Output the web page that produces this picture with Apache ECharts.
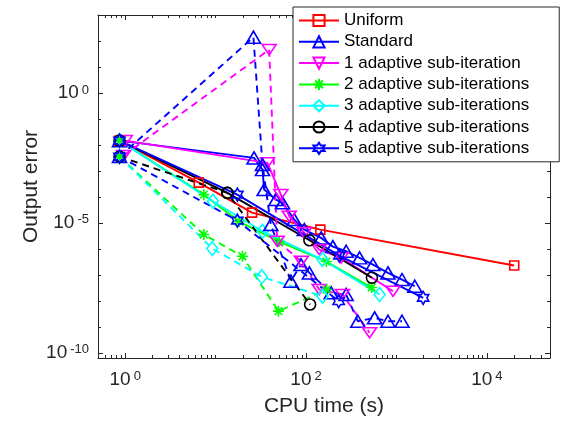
<!DOCTYPE html>
<html>
<head>
<meta charset="utf-8">
<script src="https://cdn.jsdelivr.net/npm/echarts@6/dist/echarts.min.js"></script>
<style>
  html, body { margin: 0; padding: 0; background: #ffffff; }
  #chart { width: 566px; height: 425px; }
</style>
</head>
<body>
<div id="chart"></div>
<script>
// CPU time (s) against output error for each refinement strategy.
// Solid curves: first test case; dashed curves: second test case.

const uniformTime = [0.865, 6.52, 25.3, 144, 20100];
const uniformErr  = [0.0146, 3.55e-4, 2.49e-5, 5.5e-6, 2.28e-7];

const standardTime  = [0.865, 26.6, 33.0, 34.4, 46.4, 55.0, 74.1, 95.7, 147, 198, 278, 391, 550, 807, 1153, 1597];
const standardErr   = [0.0146, 3.16e-3, 1.12e-3, 1.91e-4, 7.9e-5, 5.9e-5, 1.34e-5, 5.5e-6, 2.65e-6, 1.22e-6, 8.1e-7, 4.5e-7, 2.49e-7, 1.19e-7, 6.6e-8, 3.65e-8];
const standardTimeB = [0.865, 26.2, 33.0, 40.8, 68.1, 88, 109, 190, 278, 374, 574, 807, 1153];
const standardErrB  = [3.55e-3, 140, 1.75e-3, 8.6e-6, 5.7e-8, 2.49e-7, 1.19e-7, 2.03e-8, 1.75e-8, 1.64e-9, 2.22e-9, 1.64e-9, 1.64e-9];

const oneSubTime  = [1.0, 37.4, 52.7, 65.2, 95.7, 140, 245, 917];
const oneSubErr   = [0.0146, 2.03e-3, 1.22e-4, 1.8e-5, 4.1e-6, 9.4e-7, 4.5e-7, 2.34e-8];
const oneSubTimeB = [0.96, 39.1, 48, 88.7, 140, 253, 505];
const oneSubErrB  = [3.9e-3, 46.3, 1.96e-6, 3.33e-7, 2.72e-8, 1.75e-8, 5.9e-10];

const twoSubTime  = [0.865, 7.41, 18.2, 50.5, 168, 532];
const twoSubErr   = [0.0146, 1.22e-4, 1.12e-5, 1.91e-6, 3.25e-7, 3.25e-8];
const twoSubTimeB = [0.865, 7.41, 19.8, 49.6, 169];
const twoSubErrB  = [3.55e-3, 3.55e-6, 5.2e-7, 4.0e-9, 2.72e-8];

const threeSubTime  = [0.865, 9.33, 33, 152, 652];
const threeSubErr   = [0.0146, 6.8e-5, 4.75e-6, 3.87e-7, 1.75e-8];
const threeSubTimeB = [0.865, 9.18, 32.4, 152];
const threeSubErrB  = [3.55e-3, 1.03e-6, 8.4e-8, 1.5e-8];

const fourSubTime  = [0.865, 13.5, 109, 536];
const fourSubErr   = [0.0146, 1.43e-4, 2.14e-6, 7.7e-8];
const fourSubTimeB = [0.865, 13.5, 111];
const fourSubErrB  = [3.55e-3, 1.43e-4, 7.2e-9];

const fiveSubTime  = [0.865, 17.4, 234, 1976];
const fiveSubErr   = [0.0146, 1.22e-4, 5.5e-7, 1.3e-8];
const fiveSubTimeB = [0.865, 17.4, 230];
const fiveSubErrB  = [3.55e-3, 1.22e-5, 9.7e-9];

// Decade exponents that carry a "10^n" label
const xTickExps = [0, 2, 4];
const yTickExps = [-10, -5, 0];

// ---- styling -------------------------------------------------------------
const AX = '#262626';
const FONT = '"Liberation Sans", Arial, Helvetica, sans-serif';

// Axes are drawn in decade (log10) units
const X_MIN = Math.log10(0.5), X_MAX = Math.log10(5e4);
const Y_MIN = -10.2, Y_MAX = 3;

const xMinor = [];
for (let n = -1; n <= 4; n++) {
  for (let k = 1; k <= 9; k++) {
    if (k === 1 && xTickExps.includes(n)) continue;
    const v = n + Math.log10(k);
    if (v > X_MIN + 1e-9 && v < X_MAX - 1e-9) xMinor.push(v);
  }
}
const yMinor = [];
for (let n = -10; n <= 3; n++) if (!yTickExps.includes(n)) yMinor.push(n);

const powRich = {
  b: { fontFamily: FONT, fontSize: 19, color: AX },
  s: { fontFamily: FONT, fontSize: 13, color: AX, verticalAlign: 'top', padding: [0, 0, 0, 3] }
};
const powLabel = v => '{b|10}{s|' + Math.round(v) + '}';

function axis(pos, min, max, ticks, len, showLine, extra) {
  return Object.assign({
    type: 'value', gridIndex: 0, position: pos, min: min, max: max,
    axisLine: { show: showLine, onZero: false, lineStyle: { color: AX, width: 1 } },
    axisTick: { show: true, inside: true, length: len, customValues: ticks, lineStyle: { color: AX, width: 1 } },
    axisLabel: { show: false },
    splitLine: { show: false },
    minorTick: { show: false },
    minorSplitLine: { show: false },
    axisPointer: { show: false },
    silent: true
  }, extra || {});
}

const xAxes = [
  axis('bottom', X_MIN, X_MAX, xTickExps, 5, true, {
    axisLabel: { show: true, customValues: xTickExps, formatter: powLabel, rich: powRich, margin: 12 },
    name: 'CPU time (s)', nameLocation: 'middle', nameGap: 38, nameMoveOverlap: false,
    nameTextStyle: { fontFamily: FONT, fontSize: 21, color: AX }
  }),
  axis('bottom', X_MIN, X_MAX, xMinor, 3, false),
  axis('top', X_MIN, X_MAX, xTickExps, 5, true),
  axis('top', X_MIN, X_MAX, xMinor, 3, false)
];
const yAxes = [
  axis('left', Y_MIN, Y_MAX, yTickExps, 5, true, {
    axisLabel: { show: true, customValues: yTickExps, formatter: powLabel, rich: powRich, margin: 9 },
    name: 'Output error', nameLocation: 'middle', nameGap: 56, nameMoveOverlap: false,
    nameTextStyle: { fontFamily: FONT, fontSize: 21, color: AX }
  }),
  axis('left', Y_MIN, Y_MAX, yMinor, 3, false),
  axis('right', Y_MIN, Y_MAX, yTickExps, 5, true),
  axis('right', Y_MIN, Y_MAX, yMinor, 3, false)
];

// Marker shapes
const SYM_DOWN = 'path://M0,0L2,0L1,1.7Z';
const SYM_STAR = 'path://M0,-1L0,1M-1,0L1,0M-0.7,-0.7L0.7,0.7M-0.7,0.7L0.7,-0.7';
const SYM_HEX  = 'path://M0,-1L0.2887,-0.5L0.866,-0.5L0.577,0L0.866,0.5L0.2887,0.5L0,1L-0.2887,0.5L-0.866,0.5L-0.577,0L-0.866,-0.5L-0.2887,-0.5Z';

function line(name, t, e, color, symbol, size, dashed) {
  return {
    name: name, type: 'line', xAxisIndex: 0, yAxisIndex: 0,
    data: t.map((v, i) => [Math.log10(v), Math.log10(e[i])]),
    symbol: symbol, symbolSize: size, symbolKeepAspect: true, showSymbol: true,
    lineStyle: { color: color, width: 1.9, type: dashed ? [7, 5] : 'solid' },
    itemStyle: { color: 'rgba(0,0,0,0)', borderColor: color, borderWidth: 1.6 },
    emphasis: { disabled: true },
    clip: true, animation: false
  };
}

const RED = '#ff0000', BLUE = '#0000ff', MAG = '#ff00ff', GRN = '#00ff00', CYN = '#00ffff', BLK = '#000000';

const names = ['Uniform', 'Standard', '1 adaptive sub-iteration', '2 adaptive sub-iterations',
               '3 adaptive sub-iterations', '4 adaptive sub-iterations', '5 adaptive sub-iterations'];

const series = [
  line(names[0], uniformTime, uniformErr, RED, 'rect', 9, false),
  line(names[1], standardTime, standardErr, BLUE, 'triangle', [14, 12], false),
  line(names[2], oneSubTime, oneSubErr, MAG, SYM_DOWN, [14, 12], false),
  line(names[3], twoSubTime, twoSubErr, GRN, SYM_STAR, 11, false),
  line(names[4], threeSubTime, threeSubErr, CYN, 'diamond', [11, 14], false),
  line(names[5], fourSubTime, fourSubErr, BLK, 'circle', 11, false),
  line(names[6], fiveSubTime, fiveSubErr, BLUE, SYM_HEX, 13, false),
  line('Standard, case 2', standardTimeB, standardErrB, BLUE, 'triangle', [14, 12], true),
  line('1 adaptive sub-iteration, case 2', oneSubTimeB, oneSubErrB, MAG, SYM_DOWN, [14, 12], true),
  line('2 adaptive sub-iterations, case 2', twoSubTimeB, twoSubErrB, GRN, SYM_STAR, 11, true),
  line('3 adaptive sub-iterations, case 2', threeSubTimeB, threeSubErrB, CYN, 'diamond', [11, 14], true),
  line('4 adaptive sub-iterations, case 2', fourSubTimeB, fourSubErrB, BLK, 'circle', 11, true),
  line('5 adaptive sub-iterations, case 2', fiveSubTimeB, fiveSubErrB, BLUE, SYM_HEX, 13, true)
];

const chart = echarts.init(document.getElementById('chart'), null, { renderer: 'canvas' });
chart.setOption({
  animation: false,
  backgroundColor: '#ffffff',
  grid: { left: 98, top: 15, right: 16, bottom: 67, containLabel: false },
  xAxis: xAxes,
  yAxis: yAxes,
  legend: {
    data: names,
    orient: 'vertical', left: 293, top: 7,
    padding: [3, 30, 3, 5],
    itemWidth: 40, itemHeight: 14, itemGap: 0.3,
    backgroundColor: '#ffffff', borderColor: AX, borderWidth: 1, borderRadius: 0,
    textStyle: { fontFamily: FONT, fontSize: 17, color: '#000000', lineHeight: 21 },
    selectedMode: false
  },
  series: series
});
</script>
</body>
</html>
